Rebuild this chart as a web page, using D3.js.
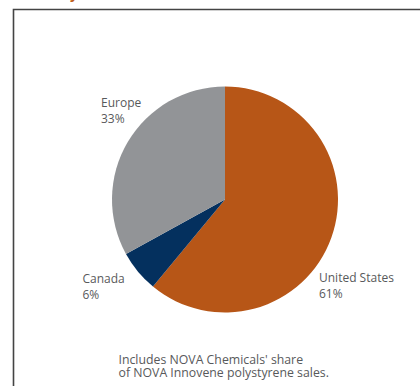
<!DOCTYPE html>
<html>
<head>
<meta charset="utf-8">
<script src="https://cdn.jsdelivr.net/npm/d3@7"></script>
<style>
  html, body { margin: 0; padding: 0; background: #fff; }
  svg { display: block; }
  text { font-family: "Open Sans", "DejaVu Sans", sans-serif; fill: #58595b; }
</style>
</head>
<body>
<svg id="chart" width="420" height="386"></svg>
<script>
// Polystyrene sales by region (percent)
const regions = ["United States", "Canada", "Europe"];
const shares = [61, 6, 33];
const colors = ["#b75617", "#04305e", "#929497"];
const footnote = ["Includes NOVA Chemicals' share", "of NOVA Innovene polystyrene sales."];

const svg = d3.select("#chart");
const W = 420, H = 386;

// Cut-off heading above the panel
svg.append("text")
  .attr("x", 70).attr("y", -1)
  .style("font-weight", "bold").style("font-size", "14px")
  .style("fill", "#c0601c")
  .text("y");

// Panel frame: top and left rules
svg.append("path")
  .attr("d", `M13.5,${H} L13.5,9.5 L${W},9.5`)
  .attr("fill", "none")
  .attr("stroke", "#444")
  .attr("stroke-width", 1.6);

const cx = 225, cy = 199.5, r = 113;

const pie = d3.pie().sort(null).value(d => d.value);
const arc = d3.arc().innerRadius(0).outerRadius(r);
const data = regions.map((name, i) => ({ name, value: shares[i], color: colors[i] }));

const g = svg.append("g").attr("transform", `translate(${cx},${cy})`);
g.selectAll("path")
  .data(pie(data))
  .join("path")
  .attr("d", arc)
  .attr("fill", d => d.data.color);

// Slice labels
const labelPos = {
  "United States": { x: 319, y: 282 },
  "Canada": { x: 82.5, y: 283 },
  "Europe": { x: 101, y: 107 }
};
data.forEach(d => {
  const p = labelPos[d.name];
  const t = svg.append("text")
    .attr("x", p.x).attr("y", p.y)
    .style("font-size", "12px");
  t.append("tspan").attr("x", p.x).text(d.name);
  t.append("tspan").attr("x", p.x).attr("dy", 15.5).text(d.value + "%");
});

// Footnote
const fn = svg.append("text")
  .attr("x", 118.5).attr("y", 364)
  .style("font-size", "12.3px");
footnote.forEach((line, i) => {
  fn.append("tspan").attr("x", 118.5).attr("dy", i === 0 ? 0 : 13).text(line);
});
</script>
</body>
</html>
